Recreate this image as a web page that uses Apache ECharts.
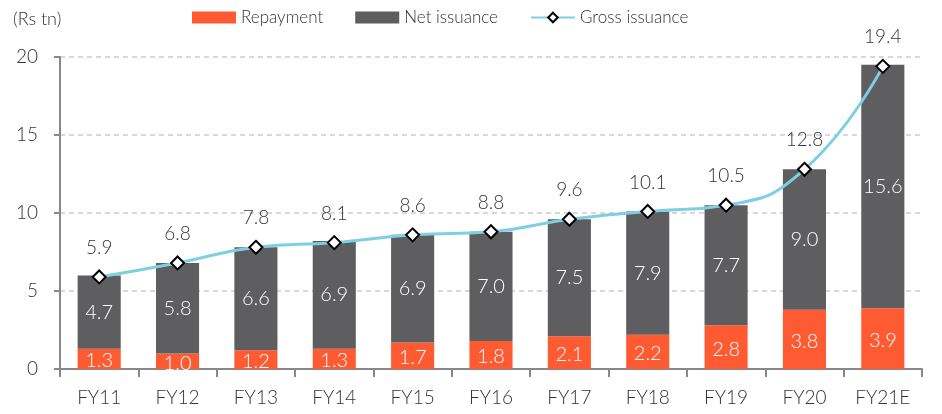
<!DOCTYPE html>
<html>
<head>
<meta charset="utf-8">
<script src="https://cdn.jsdelivr.net/npm/echarts@6/dist/echarts.min.js"></script>
<style>
  html, body { margin: 0; padding: 0; background: #fff; }
  #container { width: 942px; height: 414px; }
</style>
</head>
<body>
<div id="container"></div>
<script type="text/javascript">
// data
var categories = ['FY11', 'FY12', 'FY13', 'FY14', 'FY15', 'FY16', 'FY17', 'FY18', 'FY19', 'FY20', 'FY21E'];
var repayment = [1.3, 1.0, 1.2, 1.3, 1.7, 1.8, 2.1, 2.2, 2.8, 3.8, 3.9];
var netIssuance = [4.7, 5.8, 6.6, 6.9, 6.9, 7.0, 7.5, 7.9, 7.7, 9.0, 15.6];
var grossIssuance = [5.9, 6.8, 7.8, 8.1, 8.6, 8.8, 9.6, 10.1, 10.5, 12.8, 19.4];

var FONT = 'Lato';
var chart = echarts.init(document.getElementById('container'));

function fmt(p) { return p.value.toFixed(1); }

var option = {
  animation: false,
  textStyle: { fontFamily: FONT, fontWeight: 300 },
  title: {
    text: '(Rs tn)',
    left: 8, top: 5,
    textStyle: { fontFamily: FONT, fontWeight: 300, fontSize: 18, color: '#333' }
  },
  legend: {
    top: 4, left: 187,
    itemWidth: 44, itemHeight: 12, itemGap: 32,
    textStyle: { fontFamily: FONT, fontWeight: 300, fontSize: 17, color: '#333' },
    data: [
      { name: 'Repayment', icon: 'rect' },
      { name: 'Net issuance', icon: 'rect' },
      { name: 'Gross issuance' }
    ]
  },
  grid: { left: 60, right: 20, top: 57, bottom: 45 },
  xAxis: {
    type: 'category',
    data: categories,
    axisLine: { lineStyle: { color: '#888', width: 2 } },
    axisTick: { show: true, length: 8, lineStyle: { color: '#888', width: 2 } },
    axisLabel: { fontFamily: FONT, fontWeight: 300, fontSize: 19, color: '#333', margin: 19 }
  },
  yAxis: {
    type: 'value',
    min: 0, max: 20, interval: 5,
    axisLine: { show: true, lineStyle: { color: '#888', width: 2 } },
    axisTick: { show: true, length: 6, lineStyle: { color: '#888', width: 2 } },
    axisLabel: { fontFamily: FONT, fontWeight: 300, fontSize: 19, color: '#333', margin: 22 },
    splitLine: { show: true, lineStyle: { color: '#ccc', type: [5, 4], width: 1.5 } }
  },
  series: [
    {
      name: 'Repayment', type: 'bar', stack: 'total',
      data: repayment, barWidth: '55%',
      itemStyle: { color: '#ff5b33' },
      label: { show: true, position: 'inside', offset: [0, 2], color: '#fff', fontSize: 20, fontFamily: FONT, fontWeight: 300, formatter: fmt }
    },
    {
      name: 'Net issuance', type: 'bar', stack: 'total',
      data: netIssuance, barWidth: '55%',
      itemStyle: { color: '#5e5e60' },
      label: { show: true, position: 'inside', color: '#fff', fontSize: 20, fontFamily: FONT, fontWeight: 300, formatter: fmt }
    },
    {
      name: 'Gross issuance', type: 'line', smooth: true,
      data: grossIssuance,
      symbol: 'diamond', symbolSize: 13,
      lineStyle: { color: '#7fcfe4', width: 3 },
      itemStyle: { color: '#fff', borderColor: '#000', borderWidth: 2 },
      label: { show: true, position: 'top', distance: 12, color: '#333', fontSize: 19, fontFamily: FONT, fontWeight: 300, formatter: fmt },
      z: 5
    }
  ]
};

chart.setOption(option);
</script>
</body>
</html>
